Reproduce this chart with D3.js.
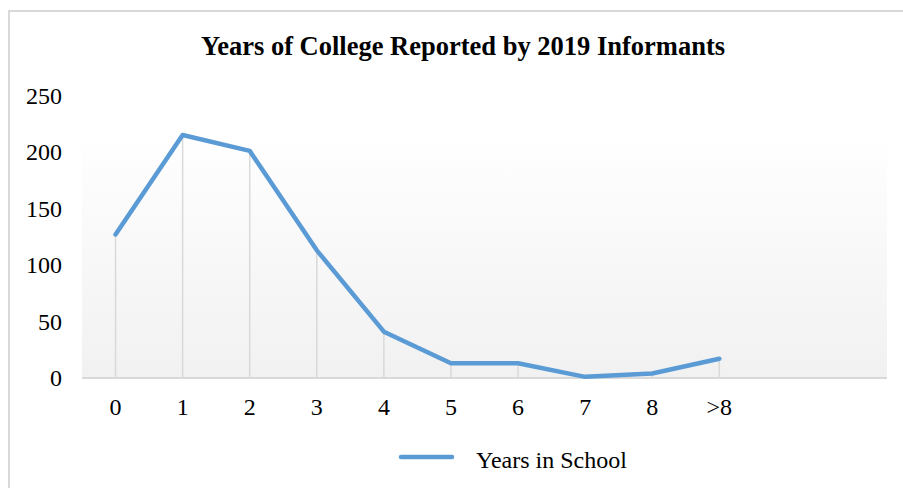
<!DOCTYPE html>
<html>
<head>
<meta charset="utf-8">
<script src="https://cdn.jsdelivr.net/npm/d3@7"></script>
<style>
  html, body { margin: 0; padding: 0; background: #fff; }
  svg { display: block; }
  text { font-family: "Liberation Serif", "Times New Roman", serif; fill: #000; }
</style>
</head>
<body>
<svg id="chart" width="903" height="488"></svg>
<script>
const title = "Years of College Reported by 2019 Informants";
const categories = ["0", "1", "2", "3", "4", "5", "6", "7", "8", ">8"];
const values = [127, 215, 201, 113, 41, 13, 13, 1, 4, 17];
const yTicks = [0, 50, 100, 150, 200, 250];
const seriesName = "Years in School";
const slotCount = 12; // category axis has two empty trailing slots

const svg = d3.select("#chart");

// frame
svg.append("line").attr("x1", 9).attr("x2", 903).attr("y1", 11).attr("y2", 11)
  .attr("stroke", "#d9d9d9").attr("stroke-width", 2);
svg.append("line").attr("x1", 9).attr("x2", 9).attr("y1", 10).attr("y2", 488)
  .attr("stroke", "#d9d9d9").attr("stroke-width", 2);

const plot = { left: 82, right: 887, top: 132, bottom: 378 };

const x = d3.scaleBand().domain(d3.range(slotCount)).range([plot.left, plot.right]);
const y = d3.scaleLinear().domain([0, 250]).range([378, 95.5]);
const cx = i => x(i) + x.bandwidth() / 2;

// gradient background
const defs = svg.append("defs");
const grad = defs.append("linearGradient").attr("id", "bg").attr("x1", 0).attr("x2", 0).attr("y1", 0).attr("y2", 1);
grad.append("stop").attr("offset", "0%").attr("stop-color", "#ffffff");
grad.append("stop").attr("offset", "100%").attr("stop-color", "#f1f1f1");
svg.append("rect").attr("x", plot.left).attr("y", plot.top)
  .attr("width", plot.right - plot.left).attr("height", plot.bottom - plot.top)
  .attr("fill", "url(#bg)");

// title
svg.append("text").attr("x", 463).attr("y", 55).attr("text-anchor", "middle")
  .attr("font-size", 26.5).attr("font-weight", "bold").text(title);

// y tick labels
svg.append("g").selectAll("text").data(yTicks).join("text")
  .attr("x", 62).attr("y", d => y(d)).attr("dy", "0.35em")
  .attr("text-anchor", "end").attr("font-size", 24).text(d => d);

// drop lines
svg.append("g").selectAll("line").data(values).join("line")
  .attr("x1", (d, i) => cx(i)).attr("x2", (d, i) => cx(i))
  .attr("y1", d => y(d)).attr("y2", y(0))
  .attr("stroke", "#d9d9d9").attr("stroke-width", 1.5);

// axis line
svg.append("line").attr("x1", plot.left).attr("x2", plot.right)
  .attr("y1", y(0)).attr("y2", y(0)).attr("stroke", "#d9d9d9").attr("stroke-width", 2);

// x labels
svg.append("g").selectAll("text").data(categories).join("text")
  .attr("x", (d, i) => cx(i)).attr("y", 415).attr("text-anchor", "middle")
  .attr("font-size", 24).text(d => d);

// line
const line = d3.line().x((d, i) => cx(i)).y(d => y(d));
svg.append("path").datum(values).attr("d", line)
  .attr("fill", "none").attr("stroke", "#5b9bd5").attr("stroke-width", 4.5)
  .attr("stroke-linejoin", "round").attr("stroke-linecap", "round");

// legend
svg.append("line").attr("x1", 401).attr("x2", 452).attr("y1", 457).attr("y2", 457)
  .attr("stroke", "#5b9bd5").attr("stroke-width", 4.5).attr("stroke-linecap", "round");
svg.append("text").attr("x", 476).attr("y", 468).attr("font-size", 24).text(seriesName);
</script>
</body>
</html>
